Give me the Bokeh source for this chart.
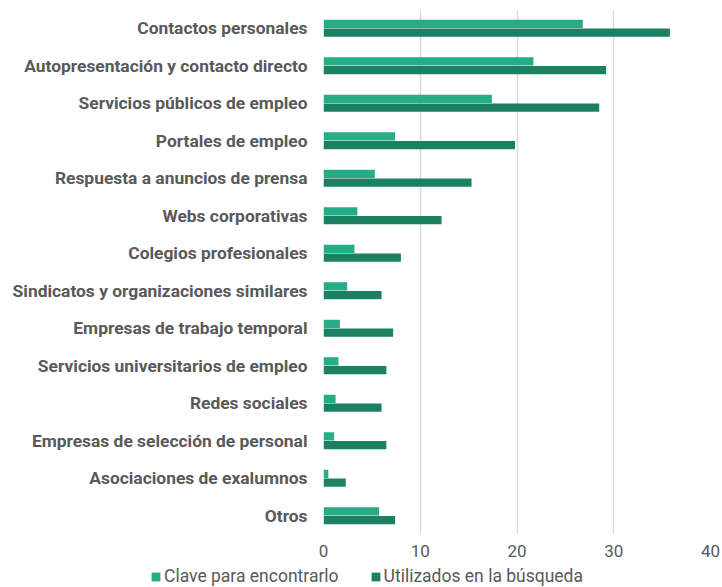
from bokeh.plotting import figure
from bokeh.layouts import column
from bokeh.models import ColumnDataSource, FactorRange, Range1d, Legend, LegendItem, FixedTicker
from bokeh.transform import dodge
from bokeh.embed import file_html
from bokeh.resources import INLINE

categories = [
    "Contactos personales",
    "Autopresentación y contacto directo",
    "Servicios públicos de empleo",
    "Portales de empleo",
    "Respuesta a anuncios de prensa",
    "Webs corporativas",
    "Colegios profesionales",
    "Sindicatos y organizaciones similares",
    "Empresas de trabajo temporal",
    "Servicios universitarios de empleo",
    "Redes sociales",
    "Empresas de selección de personal",
    "Asociaciones de exalumnos",
    "Otros",
]
clave = [26.8, 21.7, 17.4, 7.4, 5.3, 3.5, 3.2, 2.45, 1.7, 1.55, 1.25, 1.1, 0.5, 5.75]
utilizados = [35.8, 29.2, 28.5, 19.8, 15.3, 12.2, 8.0, 6.0, 7.2, 6.5, 6.0, 6.5, 2.3, 7.4]
x_ticks = [0, 10, 20, 30, 40]
series_names = ["Clave para encontrarlo", "Utilizados en la búsqueda"]

LIGHT = "#24ad86"
DARK = "#1c8063"
GRAY = "#595959"
FONT = "Roboto"

src = ColumnDataSource(dict(cat=categories, clave=clave, util=utilizados))

p = figure(
    width=722, height=564,
    y_range=FactorRange(factors=categories[::-1], range_padding=0),
    x_range=Range1d(0, 40),
    output_backend="svg", toolbar_location=None,
    min_border_left=323, min_border_right=12, min_border_top=9, min_border_bottom=30,
)

r1 = p.hbar(y=dodge("cat", 0.115, range=p.y_range), right="clave", left=0, height=0.22,
            source=src, fill_color=LIGHT, line_color=None)
r2 = p.hbar(y=dodge("cat", -0.115, range=p.y_range), right="util", left=0, height=0.22,
            source=src, fill_color=DARK, line_color=None)

p.outline_line_color = None
p.ygrid.grid_line_color = None
p.xgrid.grid_line_color = "#d9d9d9"
p.xgrid.grid_line_width = 1.5

p.xaxis.ticker = FixedTicker(ticks=x_ticks)
p.xaxis.axis_line_color = None
p.xaxis.major_tick_line_color = None
p.xaxis.minor_tick_line_color = None
p.xaxis.major_tick_out = 0
p.xaxis.major_label_text_font = FONT
p.xaxis.major_label_text_font_size = "17px"
p.xaxis.major_label_text_color = GRAY
p.xaxis.major_label_standoff = 10

p.yaxis.axis_line_color = None
p.yaxis.major_tick_line_color = None
p.yaxis.minor_tick_line_color = None
p.yaxis.major_tick_out = 0
p.yaxis.major_label_text_font = FONT
p.yaxis.major_label_text_font_style = "bold"
p.yaxis.major_label_text_font_size = "17.4px"
p.yaxis.major_label_text_color = GRAY
p.yaxis.major_label_standoff = 16

# Legend strip below the chart
p2 = figure(width=722, height=23, x_range=Range1d(0, 1), y_range=Range1d(0, 1),
            output_backend="svg", toolbar_location=None,
            x_axis_location=None, y_axis_location=None,
            min_border=0, min_border_left=0, min_border_right=0,
            min_border_top=0, min_border_bottom=0)
try:
    p.frame_align = False
    p2.frame_align = False
except Exception:
    pass
p2.outline_line_color = None
p2.xgrid.visible = False
p2.ygrid.visible = False
swatch = ColumnDataSource(dict(y=[0.5], right=[0]))
l1 = p2.hbar(y="y", right="right", left=0, height=0.5, source=swatch,
             fill_color=LIGHT, line_color=None)
l2 = p2.hbar(y="y", right="right", left=0, height=0.5, source=swatch,
             fill_color=DARK, line_color=None)

legend = Legend(
    items=[LegendItem(label=series_names[0], renderers=[l1]),
           LegendItem(label=series_names[1], renderers=[l2])],
    orientation="horizontal", location=(150, 1),
    label_text_font=FONT, label_text_font_size="17.5px", label_text_color=GRAY,
    glyph_width=11, glyph_height=11, label_standoff=3, spacing=31,
    padding=0, margin=0, border_line_color=None, background_fill_alpha=0,
)
p2.add_layout(legend, "center")

layout = column(p, p2, spacing=0)
open("out.html", "w").write(file_html(layout, INLINE))
